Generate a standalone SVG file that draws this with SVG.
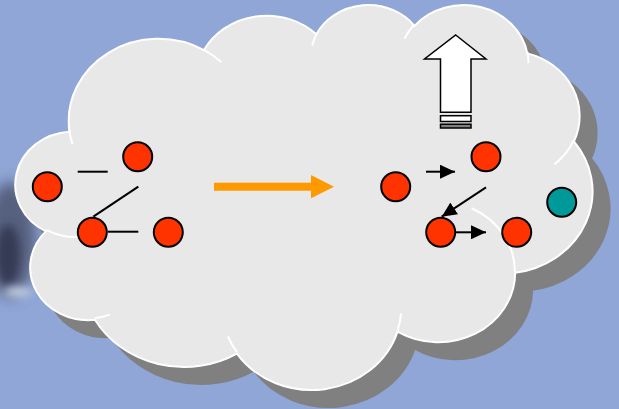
<svg xmlns="http://www.w3.org/2000/svg" xmlns:xlink="http://www.w3.org/1999/xlink" width="619" height="409" viewBox="0 0 619 409">
<style>
.edge{vector-effect:non-scaling-stroke;stroke-width:2}
.red{fill:#ff3300;stroke:#000;stroke-width:2}
.teal{fill:#009999;stroke:#000;stroke-width:2}
.ln{stroke:#000;stroke-width:2;fill:none}
.arr{stroke:#000;stroke-width:2;fill:none;marker-end:url(#ah)}
</style>
<defs>
<marker id="ah" viewBox="0 0 15 14" refX="15" refY="7" markerWidth="15" markerHeight="14" markerUnits="userSpaceOnUse" orient="auto">
<path d="M0,0 L15,7 L0,14 Z" fill="#000"/>
</marker>
<filter id="blur" x="-1" y="-1" width="3" height="3"><feGaussianBlur stdDeviation="7"/></filter>
<filter id="blur2" x="-1" y="-1" width="3" height="3"><feGaussianBlur stdDeviation="4"/></filter>
<path id="cp" class="edge" d="M3900 14370 A6753 9190 0 0 1 14006.5 5203.4 A5333 7267 0 0 1 22457.1 3432.9 A4365 5945 0 0 1 29834.5 2482.3 A4857 6595 0 0 1 38319.7 5577.5 A5333 7273 0 0 1 41820.2 15461.1 A6775 9220 0 0 1 37406.1 30204.4 A5785 7867 0 0 1 28557.9 36814.7 A6752 9215 0 0 1 16482.3 39265.3 A7720 10543 0 0 1 5806.6 35471.2 A4360 5918 0 0 1 2115.3 25549.4 A4345 5945 0 0 1 3900 14370 Z"/>
</defs>
<g id="background">
<rect x="0" y="0" width="619" height="409" fill="#8fa6d6"/>
<ellipse cx="10" cy="240" rx="26" ry="58" fill="#56607f" filter="url(#blur)"/>
<ellipse cx="8" cy="255" rx="12" ry="30" fill="#353a55" filter="url(#blur2)"/>
<ellipse cx="18" cy="292" rx="14" ry="5" fill="#c8d2e6" filter="url(#blur2)"/>
</g>
<g id="cloud">
<g transform="translate(34.7 20.7) scale(0.0133 0.00891)">
<use xlink:href="#cp" fill="#808080" stroke="#808080"/>
</g>
<g transform="translate(17.7 3.7) scale(0.0133 0.00891)">
<use xlink:href="#cp" fill="#e8e8e8" stroke="#ffffff"/>
<path class="edge" fill="none" stroke="#ffffff" d="M14000 5192 A6753 9190 0 0 1 15298.5 6539.3 M4127 15789 A6753 9190 0 0 1 3833.2 13746.8 M4693 26177 A4345 5945 0 0 1 2159.9 25380.3 M6928 34899 A4360 5918 0 0 1 5819.6 35280.4 M16478 39090 A6752 9215 0 0 1 15810.1 37350 M28827 34751 A6752 9215 0 0 1 28560.4 36660.3 M34129 22954 A5785 7867 0 0 1 37380 30089.3 M41798 15354 A5333 7273 0 0 1 40350.1 18030 M38324 5426 A4857 6595 0 0 1 38400.4 6689.6 M29078 3952 A4857 6595 0 0 1 29819.6 2340.5 M22141 4720 A4365 5945 0 0 1 22500.2 3330.2"/>
</g>
</g>
<g id="up-arrow">
<path d="M455.7,35 L486,59 L471,59 L471,112.3 L440.5,112.3 L440.5,59 L424.5,59 Z" fill="#ffffff" stroke="#000" stroke-width="1.5" stroke-linejoin="miter"/>
<rect x="440.5" y="115.7" width="30.5" height="5.8" fill="#ffffff" stroke="#000" stroke-width="1.5"/>
<rect x="440.5" y="124.2" width="30.5" height="3.8" fill="#808080" stroke="#000" stroke-width="1.5"/>
</g>
<g id="transition-arrow">
<rect x="214" y="182.7" width="97" height="8" fill="#ff9900"/>
<polygon points="311,175 334,186.7 311,198.3" fill="#ff9900"/>
</g>
<g id="connectors">
<line class="ln" x1="77.7" y1="171.7" x2="107.7" y2="171.7"/>
<line class="ln" x1="138.3" y1="186.7" x2="93.3" y2="216.7"/>
<line class="ln" x1="107.7" y1="231.7" x2="138.3" y2="231.7"/>
<line class="arr" x1="426" y1="171.7" x2="455" y2="171.7"/>
<line class="arr" x1="486" y1="187.3" x2="441.7" y2="216.7"/>
<line class="arr" x1="455" y1="232.3" x2="486" y2="232.3"/>
</g>
<g id="n-left-1"><circle class="red" cx="47.3" cy="186.7" r="14.5"/></g>
<g id="n-left-2"><circle class="red" cx="137.7" cy="156.7" r="14.5"/></g>
<g id="n-left-3"><circle class="red" cx="92.3" cy="232.3" r="14.5"/></g>
<g id="n-left-4"><circle class="red" cx="168.3" cy="232.3" r="14.5"/></g>
<g id="n-right-1"><circle class="red" cx="395.7" cy="186.7" r="14.5"/></g>
<g id="n-right-2"><circle class="red" cx="486" cy="156.7" r="14.5"/></g>
<g id="n-right-3"><circle class="red" cx="440.7" cy="232.3" r="14.5"/></g>
<g id="n-right-4"><circle class="red" cx="516.7" cy="232.3" r="14.5"/></g>
<g id="n-right-5"><circle class="teal" cx="561.7" cy="202.3" r="14.5"/></g>
</svg>
